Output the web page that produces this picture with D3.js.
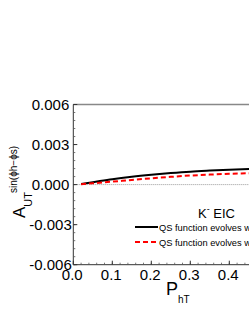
<!DOCTYPE html>
<html><head><meta charset="utf-8">
<script src="https://cdn.jsdelivr.net/npm/d3@7"></script>
<style>html,body{margin:0;padding:0;background:#fff;overflow:hidden}svg{display:block}</style>
</head><body>
<script>
const xTicks = [0.0, 0.1, 0.2, 0.3, 0.4, 0.5];
const yTicks = [-0.006, -0.003, 0.000, 0.003, 0.006];
const pht = [0.02, 0.05, 0.1, 0.15, 0.2, 0.25, 0.3, 0.35, 0.4, 0.45, 0.5];
const blackVals = [0.00005, 0.00018, 0.0004, 0.00058, 0.00073, 0.00086, 0.00097, 0.00105, 0.00112, 0.00117, 0.00121];
const redVals = [0.00003, 0.0001, 0.00022, 0.00035, 0.00047, 0.00058, 0.00068, 0.00075, 0.00081, 0.00085, 0.00089];
const legendLabels = ["QS function evolves with Q", "QS function evolves with Q"];

const W = 249, H = 323;
const svg = d3.select("body").append("svg").attr("width", W).attr("height", H);
const font = "Arial, 'Liberation Sans', sans-serif";

const x = d3.scaleLinear().domain([0, 0.5]).range([73.3, 268.3]);
const y = d3.scaleLinear().domain([-0.006, 0.006]).range([264.7, 104.5]);

// zero line
svg.append("line").attr("x1", x(0)).attr("x2", x(0.5)).attr("y1", y(0)).attr("y2", y(0))
  .attr("stroke", "#999").attr("stroke-width", 1).attr("stroke-dasharray", "1,1");

// top frame
svg.append("line").attr("x1", x(0)).attr("x2", x(0.5)).attr("y1", y(0.006)).attr("y2", y(0.006))
  .attr("stroke", "#888").attr("stroke-width", 1.5);

// x axis
const xMinor = d3.range(0, 0.5001, 0.02);
const gx = svg.append("g").attr("transform", `translate(0,${y(-0.006)})`);
gx.append("line").attr("x1", x(0)).attr("x2", x(0.5)).attr("stroke", "#333").attr("stroke-width", 1);
gx.selectAll("line.mn").data(xMinor).enter().append("line")
  .attr("x1", d => x(d)).attr("x2", d => x(d)).attr("y1", 0).attr("y2", -2)
  .attr("stroke", "#555").attr("stroke-width", 0.8);
gx.selectAll("line.mj").data(xTicks).enter().append("line")
  .attr("x1", d => x(d)).attr("x2", d => x(d)).attr("y1", 0).attr("y2", -4)
  .attr("stroke", "#333").attr("stroke-width", 1);
gx.selectAll("text").data(xTicks).enter().append("text")
  .attr("x", d => x(d) - 1).attr("y", 15.5).attr("text-anchor", "middle")
  .attr("font-family", font).attr("font-size", 15).attr("fill", "#000")
  .text(d => d3.format(".1f")(d));

// y axis
const yMinor = d3.range(-0.006, 0.00601, 0.0006);
const gy = svg.append("g").attr("transform", `translate(${x(0)},0)`);
gy.append("line").attr("y1", y(-0.006)).attr("y2", y(0.006)).attr("stroke", "#333").attr("stroke-width", 1);
gy.selectAll("line.mn").data(yMinor).enter().append("line")
  .attr("y1", d => y(d)).attr("y2", d => y(d)).attr("x1", 0).attr("x2", 2)
  .attr("stroke", "#555").attr("stroke-width", 0.8);
gy.selectAll("line.mj").data(yTicks).enter().append("line")
  .attr("y1", d => y(d)).attr("y2", d => y(d)).attr("x1", 0).attr("x2", 4)
  .attr("stroke", "#333").attr("stroke-width", 1);
gy.selectAll("text").data(yTicks).enter().append("text")
  .attr("x", d => d < 0 ? -1.5 : -4).attr("y", d => y(d) + 5.5).attr("text-anchor", "end")
  .attr("font-family", font).attr("font-size", 15).attr("fill", "#000")
  .text(d => d3.format(".3f")(Math.abs(d) < 1e-12 ? 0 : d).replace("−", "-"));

// curves
const line = d3.line().x(d => x(d[0])).y(d => y(d[1])).curve(d3.curveMonotoneX);
svg.append("path").datum(pht.map((p, i) => [p, blackVals[i]])).attr("d", line)
  .attr("fill", "none").attr("stroke", "#000").attr("stroke-width", 2);
svg.append("path").datum(pht.map((p, i) => [p, redVals[i]])).attr("d", line)
  .attr("fill", "none").attr("stroke", "#f00").attr("stroke-width", 2).attr("stroke-dasharray", "5,3");

// legend
const kt = svg.append("text").attr("x", 198).attr("y", 218).attr("font-family", font).attr("font-size", 13).attr("fill", "#000");
kt.append("tspan").text("K");
kt.append("tspan").attr("dy", -6).attr("font-size", 9).text("-");
kt.append("tspan").attr("dy", 6).text(" EIC");

svg.append("line").attr("x1", 135).attr("x2", 158).attr("y1", 227).attr("y2", 227)
  .attr("stroke", "#000").attr("stroke-width", 2);
svg.append("text").attr("x", 159).attr("y", 230.5).attr("font-family", font).attr("font-size", 9.3).attr("fill", "#000").text(legendLabels[0]);
svg.append("line").attr("x1", 135).attr("x2", 156).attr("y1", 242).attr("y2", 242)
  .attr("stroke", "#f00").attr("stroke-width", 2).attr("stroke-dasharray", "5,3");
svg.append("text").attr("x", 159).attr("y", 245.5).attr("font-family", font).attr("font-size", 9.3).attr("fill", "#000").text(legendLabels[1]);

// x title
const xt = svg.append("text").attr("x", 166).attr("y", 295).attr("font-family", font).attr("font-size", 18).attr("fill", "#000");
xt.append("tspan").text("P");
xt.append("tspan").attr("dy", 8).attr("font-size", 10).text("hT");

// y title
const yt = svg.append("text").attr("transform", "translate(25,218) rotate(-90)")
  .attr("font-family", font).attr("font-size", 17).attr("fill", "#000");
yt.append("tspan").text("A");
yt.append("tspan").attr("dy", 7).attr("font-size", 11).text("UT");
yt.append("tspan").attr("dx", -1).attr("dy", -15).attr("font-size", 10).text("sin(ϕh−ϕs)");
</script>
</body></html>
